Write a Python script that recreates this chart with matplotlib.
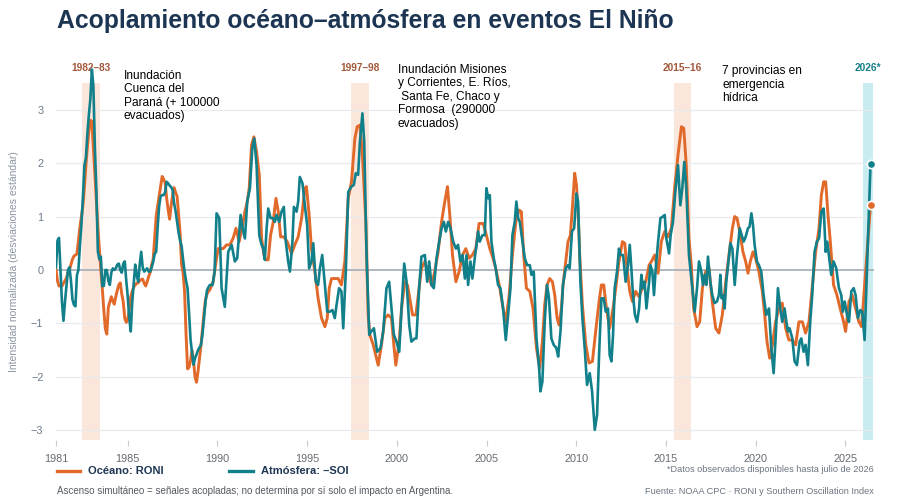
import numpy as np
import matplotlib
matplotlib.use('Agg')
import matplotlib.pyplot as plt
from matplotlib.lines import Line2D

plt.rcParams['font.family'] = ['Liberation Sans', 'DejaVu Sans']

# Monthly values Jan 1981 - Jul 1989
roni_early = [
    0.0, -0.2, -0.3, -0.3, -0.3, -0.25, -0.2, -0.15, -0.05, 0.0, 0.1, 0.2,
    0.26, 0.28, 0.3, 0.55, 0.8, 1.0, 1.2, 1.55, 1.95, 2.3, 2.6, 2.8,
    2.78, 2.3, 1.8, 1.3, 0.8, 0.4, 0.0, -0.36, -0.75, -1.1, -1.2, -0.7,
    -0.6, -0.5, -0.58, -0.64, -0.5, -0.38, -0.28, -0.24, -0.45, -0.6, -0.9, -0.98,
    -0.93, -0.75, -0.5, -0.4, -0.32, -0.28, -0.25, -0.24, -0.2, -0.18, -0.17, -0.25,
    -0.3, -0.22, -0.12, -0.05, 0.1, 0.2, 0.6, 1.0, 1.2, 1.38, 1.55, 1.75,
    1.7, 1.63, 1.35, 1.13, 0.95, 1.2, 1.4, 1.54, 1.45, 1.38, 1.05, 0.7,
    0.1, -0.05, -0.4, -1.2, -1.85, -1.82, -1.7, -1.5, -1.7, -2.0, -2.1, -1.9,
    -1.65, -1.4, -1.1, -0.8, -0.55, -0.45, -0.4,
]
soi_early = [
    0.05, 0.55, 0.6, 0.0, -0.6, -0.95, -0.6, -0.3, 0.0, 0.05, -0.2, -0.55,
    -0.65, -0.68, -0.1, 0.0, 0.45, 0.85, 1.35, 1.95, 2.1, 2.55, 2.9, 3.2,
    3.75, 3.45, 2.3, 1.5, 0.35, 0.2, 0.25, -0.3, -0.3, 0.0, 0.0, -0.2,
    -0.28, -0.05, 0.03, 0.0, 0.03, 0.1, 0.12, 0.0, -0.05, 0.12, 0.16, -0.2,
    -0.5, -0.9, -1.15, -0.6, -0.25, 0.1, -0.1, -0.22, 0.1, 0.34, 0.05, -0.03,
    0.0, 0.03, -0.03, -0.03, 0.05, 0.15, 0.3, 0.34, 0.8, 1.2, 1.38, 1.4,
    1.4, 1.45, 1.65, 1.62, 1.58, 1.55, 1.5, 1.25, 1.1, 0.9, 0.7, 0.55,
    0.45, 0.2, -0.03, -0.2, -0.34, -0.8, -1.3, -1.55, -1.77, -1.65, -1.58, -1.5,
    -1.45, -1.4, -1.2, -0.9, -0.6, -0.38, -0.32,
]

# Aug 1989 - 2026 read as (year, value) points
roni_t = [
    1989.58, 1989.76, 1989.95, 1990.04, 1990.32, 1990.51, 1990.69, 1990.88, 1991.03, 1991.21,
    1991.40, 1991.53, 1991.66, 1991.77, 1991.90, 1992.03, 1992.18, 1992.33, 1992.46, 1992.59,
    1992.70, 1992.83, 1992.96, 1993.11, 1993.26, 1993.39, 1993.52, 1993.70, 1993.89, 1994.13,
    1994.31, 1994.50, 1994.69, 1994.87, 1994.96, 1995.11, 1995.24, 1995.43, 1995.61, 1995.80,
    1995.99, 1996.12, 1996.23, 1996.36, 1996.54, 1996.73, 1996.91, 1997.10, 1997.29, 1997.47,
    1997.66, 1997.79, 1997.94, 1998.08, 1998.27, 1998.40,
    1998.49, 1998.68, 1998.96, 1999.14, 1999.33, 1999.51, 1999.70, 1999.83, 1999.94, 2000.13,
    2000.26, 2000.44, 2000.59, 2000.72, 2000.87, 2001.06, 2001.24, 2001.37, 2001.56, 2001.74,
    2001.93, 2002.11, 2002.30, 2002.49, 2002.67, 2002.82, 2002.95, 2003.10, 2003.29, 2003.47,
    2003.66, 2003.84, 2004.03, 2004.21, 2004.40, 2004.58, 2004.81, 2004.99, 2005.18, 2005.36,
    2005.55, 2005.74, 2005.92, 2006.07, 2006.26, 2006.44, 2006.63, 2006.81, 2006.94, 2007.07,
    2007.22,
    2007.41, 2007.59, 2007.78, 2007.96, 2008.11, 2008.24, 2008.37, 2008.52, 2008.67, 2008.80,
    2008.93, 2009.04, 2009.17, 2009.26, 2009.41, 2009.54, 2009.67, 2009.78, 2009.91, 2010.01,
    2010.10, 2010.19, 2010.34, 2010.53, 2010.71, 2010.90, 2011.08, 2011.27, 2011.40, 2011.53,
    2011.68, 2011.86, 2012.05, 2012.20, 2012.38, 2012.57, 2012.70, 2012.83, 2012.98, 2013.13,
    2013.31, 2013.50, 2013.68, 2013.87, 2014.06, 2014.19, 2014.37, 2014.56, 2014.74, 2014.93,
    2015.11, 2015.30, 2015.48, 2015.67, 2015.86, 2015.99, 2016.13, 2016.28,
    2016.41, 2016.54, 2016.73, 2016.88, 2017.03, 2017.21, 2017.40, 2017.58, 2017.77, 2017.95,
    2018.14, 2018.33, 2018.51, 2018.70, 2018.83, 2018.96, 2019.11, 2019.29, 2019.44, 2019.57,
    2019.70, 2019.85, 2019.99, 2020.18, 2020.37, 2020.50, 2020.63, 2020.78, 2020.93, 2021.11,
    2021.30, 2021.48, 2021.67, 2021.85, 2022.04, 2022.23, 2022.41, 2022.60, 2022.78, 2022.97,
    2023.15, 2023.34, 2023.53, 2023.66, 2023.79, 2023.90, 2024.03, 2024.16, 2024.34, 2024.53,
    2024.71, 2024.90, 2025.01, 2025.20, 2025.38, 2025.57, 2025.75, 2025.90,
]
roni_v = [
    -0.37, -0.22, 0.22, 0.40, 0.40, 0.47, 0.47, 0.60, 0.78, 0.53,
    0.84, 1.09, 1.28, 1.53, 2.34, 2.49, 2.21, 1.78, 0.59, 0.28,
    0.19, 0.19, 0.65, 0.90, 1.34, 1.09, 0.62, 0.62, 0.53, 0.31,
    0.47, 0.62, 0.97, 1.53, 1.56, 1.03, 0.40, -0.03, -0.53, -0.90,
    -1.06, -0.90, -0.34, -0.16, -0.16, -0.16, -0.28, 0.16, 1.34, 1.65,
    2.46, 2.68, 2.71, 2.15, 0.90, -0.84,
    -1.21, -1.40, -1.78, -1.40, -0.90, -0.84, -0.90, -1.40, -1.78, -1.34,
    -0.72, -0.22, -0.28, -0.53, -0.84, -0.84, -0.34, 0.03, 0.16, -0.09,
    -0.28, -0.03, 0.34, 0.90, 1.28, 1.56, 1.03, 0.28, -0.22, -0.03,
    0.28, 0.40, 0.22, 0.28, 0.40, 0.87, 0.87, 0.65, 0.40, 0.22,
    -0.03, -0.34, -0.72, -0.97, -0.47, 0.28, 0.90, 1.12, 1.09, 0.28,
    -0.34,
    -0.40, -0.72, -1.46, -1.84, -1.34, -0.65, -0.28, -0.16, -0.22, -0.47,
    -0.90, -1.03, -0.72, -0.28, 0.16, 0.53, 0.65, 1.15, 1.81, 1.59,
    1.09, 0.28, -0.65, -1.40, -1.74, -1.71, -1.15, -0.59, -0.28, -0.28,
    -0.72, -1.09, -0.72, -0.34, 0.16, 0.53, 0.50, 0.03, -0.40, -0.59,
    -0.40, -0.50, -0.34, -0.22, 0.09, 0.16, 0.28, -0.06, 0.53, 0.72,
    0.62, 0.78, 1.53, 2.15, 2.68, 2.65, 1.96, 0.59,
    0.10, -0.72, -1.06, -0.97, -0.34, -0.03, 0.03, -0.59, -1.09, -1.18,
    -0.84, -0.22, 0.28, 0.78, 1.00, 0.97, 0.72, 0.34, 0.16, -0.06,
    0.16, 0.34, 0.22, -0.03, -0.40, -0.84, -1.34, -1.65, -1.40, -0.97,
    -0.72, -0.62, -1.09, -1.31, -1.31, -1.40, -0.97, -0.97, -1.18, -0.97,
    -0.34, 0.34, 0.78, 1.40, 1.65, 1.65, 1.03, 0.53, -0.28, -0.47,
    -0.72, -0.97, -1.15, -0.59, -0.47, -0.72, -0.97, -1.06,
]

soi_t = [
    1989.58, 1989.73, 1989.84, 1989.95, 1990.10, 1990.23, 1990.41, 1990.60, 1990.79, 1990.97,
    1991.10, 1991.29, 1991.40, 1991.53, 1991.66, 1991.81, 1991.94, 1992.05, 1992.18, 1992.33,
    1992.46, 1992.55, 1992.64, 1992.74, 1992.83, 1992.96, 1993.11, 1993.20, 1993.29, 1993.44,
    1993.57, 1993.70, 1993.81, 1993.94, 1994.04, 1994.18, 1994.26, 1994.41, 1994.50, 1994.59,
    1994.74, 1994.87, 1995.00, 1995.11, 1995.24, 1995.34, 1995.48, 1995.61, 1995.71, 1995.84,
    1995.99, 1996.12, 1996.26, 1996.41, 1996.54, 1996.64, 1996.78, 1996.91, 1997.01, 1997.16,
    1997.29, 1997.47, 1997.60, 1997.71, 1997.84, 1997.94, 1998.08, 1998.18, 1998.31, 1998.46,
    1998.57, 1998.72, 1998.90, 1999.09, 1999.24, 1999.42, 1999.57, 1999.70, 1999.83, 1999.98,
    2000.13, 2000.26, 2000.41, 2000.54, 2000.69, 2000.81, 2001.00, 2001.09, 2001.24, 2001.37,
    2001.56, 2001.69, 2001.80, 2001.93, 2002.06, 2002.21, 2002.36, 2002.49, 2002.62, 2002.73,
    2002.86, 2002.99, 2003.14, 2003.29, 2003.41, 2003.54, 2003.66, 2003.79, 2003.88, 2003.97,
    2004.10, 2004.21, 2004.34, 2004.44, 2004.53, 2004.62, 2004.77, 2004.90, 2004.99, 2005.09,
    2005.18, 2005.27, 2005.40, 2005.51, 2005.64, 2005.77, 2005.92, 2006.07, 2006.20, 2006.33,
    2006.44, 2006.57, 2006.66, 2006.76, 2006.85, 2007.00, 2007.13, 2007.26,
    2007.41, 2007.50, 2007.63, 2007.78, 2007.93, 2008.00, 2008.11, 2008.24, 2008.37, 2008.48,
    2008.61, 2008.74, 2008.89, 2008.99, 2009.12, 2009.26, 2009.41, 2009.54, 2009.63, 2009.76,
    2009.88, 2010.01, 2010.10, 2010.23, 2010.34, 2010.47, 2010.60, 2010.75, 2010.88, 2011.03,
    2011.16, 2011.27, 2011.40, 2011.53, 2011.64, 2011.77, 2011.86, 2011.96, 2012.05, 2012.14,
    2012.27, 2012.38, 2012.46, 2012.61, 2012.75, 2012.88, 2012.98, 2013.07, 2013.16, 2013.27,
    2013.39, 2013.50, 2013.63, 2013.72, 2013.81, 2013.91, 2014.06, 2014.13, 2014.24, 2014.33,
    2014.43, 2014.56, 2014.69, 2014.83, 2014.93, 2015.02, 2015.17, 2015.26, 2015.39, 2015.52,
    2015.67, 2015.80, 2015.91, 2016.02, 2016.13, 2016.28,
    2016.47, 2016.60, 2016.73, 2016.84, 2016.97, 2017.06, 2017.16, 2017.25, 2017.34, 2017.47,
    2017.58, 2017.71, 2017.84, 2017.95, 2018.03, 2018.10, 2018.18, 2018.27, 2018.36, 2018.46,
    2018.59, 2018.70, 2018.83, 2018.96, 2019.11, 2019.22, 2019.33, 2019.44, 2019.57, 2019.66,
    2019.76, 2019.85, 2019.94, 2020.07, 2020.18, 2020.31, 2020.44, 2020.59, 2020.74, 2020.87,
    2021.00, 2021.11, 2021.24, 2021.37, 2021.48, 2021.61, 2021.71, 2021.80, 2021.89, 2022.04,
    2022.17, 2022.30, 2022.45, 2022.54, 2022.67, 2022.78, 2022.91, 2023.04, 2023.15, 2023.28,
    2023.41, 2023.53, 2023.66, 2023.79, 2023.90, 2023.99, 2024.08, 2024.21, 2024.34, 2024.49,
    2024.64, 2024.77, 2024.86, 2024.96, 2025.09, 2025.20, 2025.33, 2025.46, 2025.57, 2025.70,
    2025.83, 2025.94, 2026.07,
]
soi_v = [
    -0.28, -0.28, -0.03, 1.06, 0.97, -0.34, -0.69, 0.34, 0.47, 0.16,
    0.22, 1.03, 0.78, 0.59, 1.28, 1.53, 2.27, 2.46, 1.96, 0.65,
    0.47, 0.40, 0.19, 0.78, 1.15, 0.97, 0.97, 0.90, 1.03, 0.90,
    1.09, 1.18, 0.53, 0.16, -0.03, 0.53, 1.18, 1.09, 1.28, 1.74,
    1.62, 1.21, 0.84, 0.03, 0.16, 0.50, -0.22, -0.28, 0.03, 0.28,
    -0.28, -0.78, -0.78, -0.75, -0.90, -0.65, -0.34, -0.40, -1.09, 0.03,
    1.46, 1.56, 1.59, 1.81, 1.78, 2.40, 2.93, 2.40, 0.28, -1.21,
    -1.15, -1.09, -1.53, -1.46, -1.15, -0.34, -0.22, -0.72, -1.21, -1.34,
    -1.53, -0.72, 0.12, -0.22, -1.03, -1.34, -1.28, -1.28, -0.34, 0.25,
    0.28, -0.22, 0.16, -0.28, -0.34, 0.22, 0.53, 0.78, 0.90, 0.72,
    0.90, 0.78, 0.53, 0.40, 0.47, 0.16, 0.28, -0.16, 0.28, -0.28,
    0.16, -0.16, 0.22, 0.47, 0.72, 0.53, 0.65, 0.65, 1.53, 1.34,
    1.40, 0.53, 0.22, 0.03, -0.28, -0.34, -0.72, -1.31, -0.84, -0.34,
    0.65, 0.90, 1.28, 0.97, 0.90, 0.53, 0.22, 0.09,
    0.09, -0.09, -0.03, -1.28, -1.84, -2.27, -2.09, -0.97, -0.28, -0.53,
    -1.28, -1.40, -1.46, -1.62, -1.15, -0.28, 0.03, 0.09, 0.03, 0.72,
    0.78, 1.43, 1.28, -0.22, -0.90, -1.46, -2.15, -1.93, -2.27, -2.99,
    -2.71, -1.59, -0.53, -0.53, -0.78, -0.72, -1.59, -1.71, -1.21, -0.34,
    -0.03, 0.40, 0.28, 0.28, -0.22, 0.09, 0.47, 0.03, -0.47, -0.84,
    -0.97, -0.72, -0.09, -0.34, -0.22, -0.72, -0.22, 0.09, -0.03, -0.47,
    0.03, 0.53, 0.97, 1.00, 1.03, 0.59, 0.31, 0.65, 0.90, 1.46,
    1.96, 1.21, 1.53, 2.02, 1.53, 0.28,
    -0.34, -0.78, -0.34, 0.16, -0.03, -0.28, -0.09, -0.28, 0.25, -0.22,
    -0.47, -0.62, -0.59, -0.47, -0.09, -0.53, -0.47, -0.72, -0.22, 0.09,
    0.50, 0.40, -0.28, 0.28, 0.78, 0.65, 0.53, 0.62, 0.78, 0.81,
    1.06, 0.84, 0.47, 0.16, 0.09, -0.03, -0.47, -0.84, -0.72, -1.46,
    -1.93, -1.28, -0.34, -0.72, -0.97, -0.72, -0.97, -1.15, -1.09, -1.28,
    -1.71, -1.78, -1.34, -1.28, -1.53, -1.40, -1.78, -0.97, -0.47, 0.34,
    0.53, 0.59, 1.09, 1.15, 0.34, 0.53, 0.28, -0.09, 0.16, 0.03,
    -0.34, -0.47, -0.78, -0.59, -0.84, -0.97, -0.40, -0.34, -0.47, -0.90,
    -0.75, -0.78, -1.31,
]

# latest point (2026*)
last_t = 2026.40
last_roni = 1.21
last_soi = 1.98

events = [(1982.45, 1983.45, '1982–83'), (1997.47, 1998.45, '1997–98'), (2015.42, 2016.40, '2015–16')]
event_2026 = (2026.0, 2026.52, '2026*')

notes = [
    (1984.79, 3.75, 'Inundación\nCuenca del\nParaná (+ 100000\nevacuados)'),
    (2000.05, 3.86, 'Inundación Misiones\ny Corrientes, E. Ríos,\n Santa Fe, Chaco y\nFormosa  (290000\nevacuados)'),
    (2018.14, 3.83, '7 provincias en\nemergencia\nhídrica'),
]

c_oce = '#e1692a'
c_atm = '#12808a'
navy = '#1c3553'

early_t = 1981 + np.arange(len(roni_early)) / 12
t_oce = np.concatenate([early_t, roni_t, [last_t]])
v_oce = np.concatenate([roni_early, roni_v, [last_roni]])
t_atm = np.concatenate([early_t, soi_t, [last_t]])
v_atm = np.concatenate([soi_early, soi_v, [last_soi]])

fig = plt.figure(figsize=(9.03, 5.04), dpi=100)
ax = fig.add_axes([0.062, 0.127, 0.906, 0.751])
ax.set_xlim(1981, 2026.6)
ax.set_ylim(-3.18, 3.9)

band_top = (3.5 + 3.18) / 7.08
for a, b, lab in events:
    ax.axvspan(a, b, ymin=0, ymax=band_top, color='#fae6db', lw=0, zorder=0)
    ax.text((a + b) / 2, 3.78, lab, ha='center', va='center', fontsize=7.3,
            fontweight='bold', color='#a2583a')
a, b, lab = event_2026
ax.axvspan(a, b, ymin=0, ymax=band_top, color='#c9ecf0', lw=0, zorder=0)
ax.text((a + b) / 2, 3.78, lab, ha='center', va='center', fontsize=7.3,
        fontweight='bold', color='#177f8a')

for yv in range(-3, 4):
    if yv != 0:
        ax.axhline(yv, color='#e8eaee', lw=0.9, zorder=0.5)
ax.axhline(0, color='#a9b3be', lw=1.3, zorder=0.6)

ax.plot(t_oce, v_oce, color=c_oce, lw=2.1, solid_joinstyle='round', zorder=2)
ax.plot(t_atm, v_atm, color=c_atm, lw=1.9, solid_joinstyle='round', zorder=3)
ax.plot([last_t], [last_roni], 'o', ms=6, color=c_oce, mec='white', mew=1.2, zorder=4)
ax.plot([last_t], [last_soi], 'o', ms=6, color=c_atm, mec='white', mew=1.2, zorder=4)

for x, y, s in notes:
    ax.text(x, y, s, ha='left', va='top', fontsize=8.6, color='black', linespacing=1.18)

ax.set_xticks([1981, 1985, 1990, 1995, 2000, 2005, 2010, 2015, 2020, 2025])
ax.set_yticks([-3, -2, -1, 0, 1, 2, 3])
ax.tick_params(axis='x', length=4, width=0.8, color='#c8cdd3', labelsize=7.8,
               labelcolor='#666b72', pad=6)
ax.tick_params(axis='y', length=0, labelsize=7.8, labelcolor='#6b7a8c', pad=9)
for s in ax.spines.values():
    s.set_visible(False)

fig.text(57 / 903, 1 - 28 / 504, 'Acoplamiento océano–atmósfera en eventos El Niño',
         fontsize=17.8, fontweight='bold', color=navy, va='baseline')
fig.text(14 / 903, 1 - 262 / 504, 'Intensidad normalizada (desviaciones estándar)',
         rotation=90, ha='center', va='center', fontsize=7.5, color='#8a94a1')

# legend
fig.add_artist(Line2D([57 / 903, 80 / 903], [1 - 471 / 504] * 2, color=c_oce, lw=2.4))
fig.text(88 / 903, 1 - 471 / 504, 'Océano: RONI', fontsize=8, fontweight='bold',
         color=navy, va='center')
fig.add_artist(Line2D([229 / 903, 253 / 903], [1 - 471 / 504] * 2, color=c_atm, lw=2.4))
fig.text(261 / 903, 1 - 471 / 504, 'Atmósfera: –SOI', fontsize=8, fontweight='bold',
         color=navy, va='center')

fig.text(57 / 903, 1 - 491 / 504,
         'Ascenso simultáneo = señales acopladas; no determina por sí solo el impacto en Argentina.',
         fontsize=7, color='#555b63', va='center')
fig.text(874 / 903, 1 - 469 / 504, '*Datos observados disponibles hasta julio de 2026',
         fontsize=6.6, color='#6b7480', ha='right', va='center')
fig.text(874 / 903, 1 - 491 / 504, 'Fuente: NOAA CPC · RONI y Southern Oscillation Index',
         fontsize=6.6, color='#6b7480', ha='right', va='center')

fig.savefig('out.png', dpi=100)
